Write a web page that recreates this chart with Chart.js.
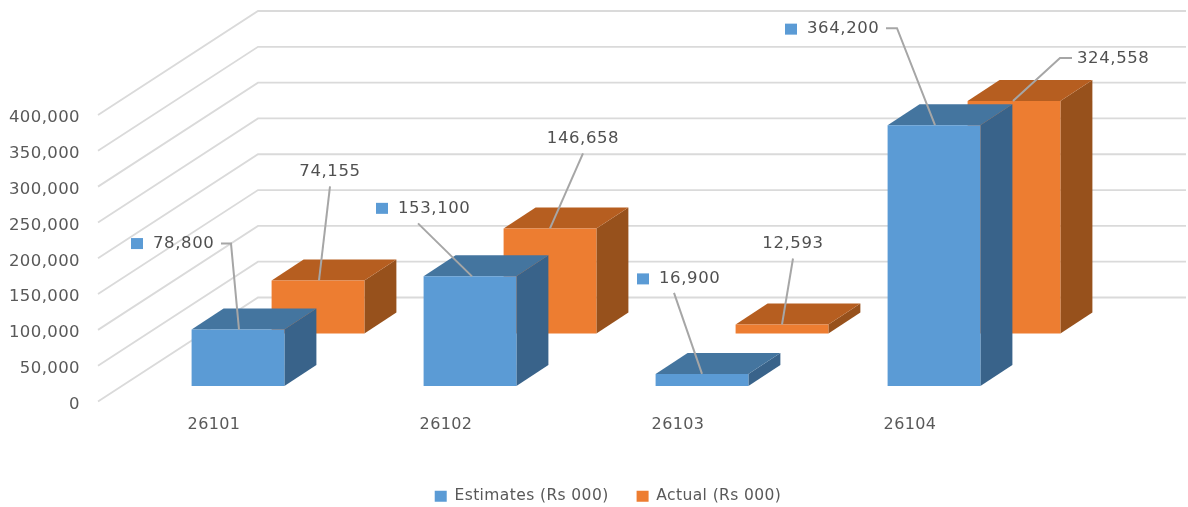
<!DOCTYPE html>
<html><head><meta charset="utf-8">
<style>html,body{margin:0;padding:0;background:#fff}canvas{display:block}</style>
<script src="https://cdn.jsdelivr.net/npm/chart.js@4/dist/chart.umd.js"></script>
</head><body><canvas id="c" width="1188" height="507"></canvas>
<script>
const categories = ['26101', '26102', '26103', '26104'];
const estimates = [78800, 153100, 16900, 364200];
const actual = [74155, 146658, 12593, 324558];
const seriesNames = ['Estimates (Rs 000)', 'Actual (Rs 000)'];

const FONT = '"DejaVu Sans"';
const TEXT = '#595959';
const WALL = {dx: 160, dy: -104};
const BAR_DEPTH = {dx: 32, dy: -21};
const styles = [
  {front: '#5B9BD5', top: '#44759F', side: '#39638A', shift: {dx: 24, dy: -15.5}},
  {front: '#ED7D31', top: '#B65E20', side: '#97511C', shift: {dx: 104, dy: -68}}
];
// label placement relative to the top-centre of each bar's front face
const labelLayout = [[
  {swatch: true, tx: -85, ty: -86, align: 'left', leader: [[-17, -86], [-7, -86], [1, 0]]},
  {swatch: true, tx: -72, ty: -68, align: 'left', leader: [[-52, -53], [2, 0]]},
  {swatch: true, tx: -43, ty: -95, align: 'left', leader: [[-28, -81], [0, 0]]},
  {swatch: true, tx: -127, ty: -96, align: 'left', leader: [[-48, -97], [-37, -97], [1, 0]]}
], [
  {tx: 12, ty: -109, align: 'center', leader: [[12, -94], [1, 0]]},
  {tx: 33, ty: -90, align: 'center', leader: [[33, -75], [0, 0]]},
  {tx: 11, ty: -81, align: 'center', leader: [[11, -66], [0, 0]]},
  {tx: 63, ty: -42, align: 'left', leader: [[58, -43], [46, -43], [-1, 0]]}
]];

function spacing(chart) { chart.ctx.letterSpacing = '0.4px'; }

function poly(ctx, pts, color) {
  ctx.beginPath();
  pts.forEach((p, i) => i ? ctx.lineTo(p[0], p[1]) : ctx.moveTo(p[0], p[1]));
  ctx.closePath();
  ctx.fillStyle = color;
  ctx.fill();
}

const scene3d = {
  id: 'scene3d',
  beforeLayout: spacing,
  beforeUpdate: spacing,
  afterLayout(chart) {
    const l = chart.legend;
    l.left += 95; l.right += 95; l.top += 7; l.bottom += 7;
  },
  beforeDraw: spacing,
  beforeDatasetsDraw(chart) {
    const ctx = chart.ctx;
    const x = chart.scales.x, y = chart.scales.y;
    ctx.save();
    // walls
    ctx.strokeStyle = '#DADADA';
    ctx.lineWidth = 1.8;
    y.ticks.forEach(t => {
      const py = y.getPixelForValue(t.value);
      ctx.beginPath();
      ctx.moveTo(x.left, py);
      ctx.lineTo(x.left + WALL.dx, py + WALL.dy);
      ctx.lineTo(x.right + WALL.dx, py + WALL.dy);
      ctx.stroke();
    });
    // bars: back series first
    for (let d = chart.data.datasets.length - 1; d >= 0; d--) {
      const st = styles[d];
      chart.getDatasetMeta(d).data.forEach(el => {
        const l = el.x - el.width / 2 + st.shift.dx, r = el.x + el.width / 2 + st.shift.dx;
        const t = el.y + st.shift.dy, b = el.base + st.shift.dy;
        const ox = BAR_DEPTH.dx, oy = BAR_DEPTH.dy;
        poly(ctx, [[r, t], [r + ox, t + oy], [r + ox, b + oy], [r, b]], st.side);
        poly(ctx, [[l, t], [l + ox, t + oy], [r + ox, t + oy], [r, t]], st.top);
        poly(ctx, [[l, t], [r, t], [r, b], [l, b]], st.front);
      });
    }
    // leaders and labels
    ctx.textBaseline = 'middle';
    chart.data.datasets.forEach((ds, d) => {
      const st = styles[d];
      chart.getDatasetMeta(d).data.forEach((el, i) => {
        const L = labelLayout[d][i];
        const cx = el.x + st.shift.dx, cy = el.y + st.shift.dy;
        ctx.strokeStyle = '#A6A6A6';
        ctx.lineWidth = 2;
        ctx.beginPath();
        L.leader.forEach((p, k) => k ? ctx.lineTo(cx + p[0], cy + p[1]) : ctx.moveTo(cx + p[0], cy + p[1]));
        ctx.stroke();
        ctx.font = '16.5px ' + FONT;
        ctx.letterSpacing = '0.6px';
        ctx.fillStyle = '#505050';
        ctx.textAlign = L.align;
        const text = ds.data[i].toLocaleString('en-US');
        ctx.fillText(text, cx + L.tx, cy + L.ty);
        if (L.swatch) {
          ctx.fillStyle = st.front;
          ctx.fillRect(cx + L.tx - 22, cy + L.ty - 5.5, 12, 11);
        }
      });
    });
    ctx.restore();
    return false;
  }
};

new Chart(document.getElementById('c'), {
  type: 'bar',
  data: {
    labels: categories,
    datasets: [
      {label: seriesNames[0], data: estimates, backgroundColor: styles[0].front},
      {label: seriesNames[1], data: actual, backgroundColor: styles[1].front}
    ]
  },
  plugins: [scene3d],
  options: {
    responsive: false,
    animation: false,
    devicePixelRatio: 1,
    layout: {padding: {left: 0, top: 115, right: 162, bottom: 0}},
    font: {family: FONT},
    datasets: {bar: {grouped: false, barPercentage: 0.4, categoryPercentage: 1}},
    scales: {
      x: {
        grid: {display: false}, border: {display: false},
        ticks: {color: TEXT, padding: 6, font: {family: FONT, size: 16}},
        afterFit(s) { s.height = 52; }
      },
      y: {
        min: 0, max: 400000,
        grid: {display: false}, border: {display: false},
        ticks: {
          stepSize: 50000, color: TEXT, padding: 10, labelOffset: 3,
          font: {family: FONT, size: 16.5},
          callback: v => v.toLocaleString('en-US')
        },
        afterFit(s) { s.width = 98; }
      }
    },
    plugins: {
      tooltip: {enabled: false},
      legend: {
        position: 'bottom',
        labels: {color: TEXT, boxWidth: 12, boxHeight: 11, padding: 28, font: {family: FONT, size: 15.5}}
      }
    }
  }
});
</script></body></html>
